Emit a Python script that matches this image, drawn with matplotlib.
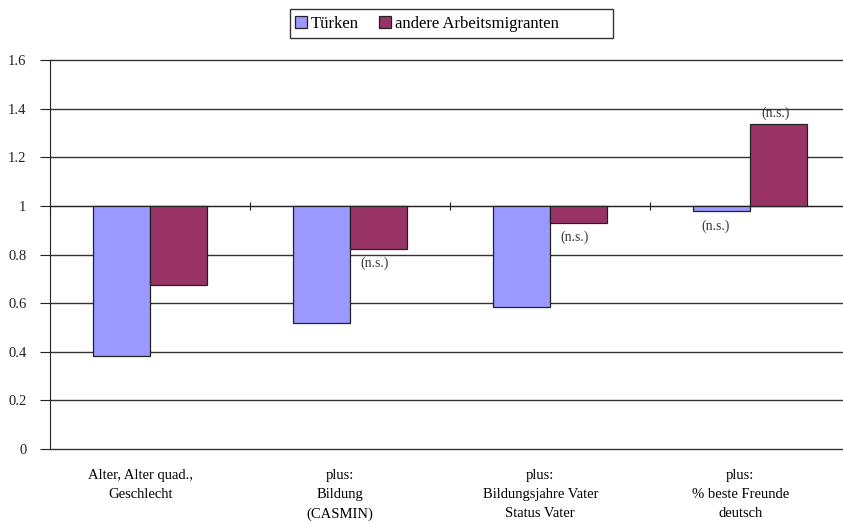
import matplotlib.pyplot as plt
import matplotlib.transforms as mtransforms
from matplotlib.patches import Rectangle
import numpy as np

# Daten (Odds Ratios, Basislinie 1)
kategorien = ["Alter, Alter quad.,\nGeschlecht",
              "plus:\nBildung\n(CASMIN)",
              "plus:\nBildungsjahre Vater\nStatus Vater",
              "plus:\n% beste Freunde\ndeutsch"]
tuerken = [0.383, 0.518, 0.584, 0.979]
andere = [0.675, 0.824, 0.931, 1.336]
ns_tuerken = [False, False, False, True]
ns_andere = [False, True, True, True]

plt.rcParams['font.family'] = ['Liberation Serif', 'DejaVu Serif']
plt.rcParams['font.size'] = 10.5

fig = plt.figure(figsize=(8.43, 5.25), dpi=100)
ax = fig.add_axes([50 / 843, 1 - 449 / 525, 800 / 843, 389 / 525])

x = np.arange(len(kategorien))
w = 0.285
t = np.array(tuerken)
a = np.array(andere)
b1 = ax.bar(x - w / 2, t - 1, w, bottom=1, color='#9999FF', edgecolor='#222222', linewidth=0.9, label='Türken', zorder=3)
b2 = ax.bar(x + w / 2, a - 1, w, bottom=1, color='#993366', edgecolor='#222222', linewidth=0.9, label='andere Arbeitsmigranten', zorder=3)

# (n.s.) Beschriftungen
for i in range(len(x)):
    if ns_tuerken[i]:
        ax.annotate("(n.s.)", (x[i] - w / 2, min(t[i], 1)), xytext=(-4, -6), textcoords='offset points',
                    ha='center', va='top', fontsize=10, color='#333333')
    if ns_andere[i]:
        if a[i] < 1:
            ax.annotate("(n.s.)", (x[i] + w / 2, a[i]), xytext=(-3, -6), textcoords='offset points',
                        ha='center', va='top', fontsize=10, color='#333333')
        else:
            ax.annotate("(n.s.)", (x[i] + w / 2, a[i]), xytext=(-2, 3), textcoords='offset points',
                        ha='center', va='bottom', fontsize=10, color='#333333')

ax.set_ylim(0, 1.6)
ax.set_xlim(-0.5, 3.5)
ax.set_yticks(np.arange(0, 1.61, 0.2))
ax.set_yticklabels(['0', '0.2', '0.4', '0.6', '0.8', '1', '1.2', '1.4', '1.6'], color='#222222')
ax.yaxis.grid(True, color='#333333', linewidth=1.0, zorder=0)
for gl in ax.get_ygridlines():
    gl.set_clip_on(False)
ax.set_axisbelow(True)

# x-Achse kreuzt bei 1
ax.spines['top'].set_visible(False)
ax.spines['right'].set_visible(False)
ax.spines['bottom'].set_position(('data', 1))
ax.spines['bottom'].set_color('#222222')
ax.spines['left'].set_color('#222222')
ax.set_xticks([-0.5, 0.5, 1.5, 2.5, 3.5])
ax.set_xticklabels([])
ax.tick_params(axis='x', direction='inout', length=6, color='#222222')
ax.tick_params(axis='y', direction='out', length=7, color='#222222', pad=10)

trans = mtransforms.blended_transform_factory(ax.transData, ax.transAxes)
off = mtransforms.offset_copy(trans, fig=fig, x=-7, y=0, units='points')
for i, lab in enumerate(kategorien):
    ax.text(x[i], -0.052, lab, transform=off, ha='center', va='top', linespacing=1.6, fontsize=10.5)

# Legende mit eigenem Rahmen
leg = fig.legend(handles=[b1, b2], loc='center left', bbox_to_anchor=(295 / 843, 1 - 23.5 / 525), ncol=2,
                 frameon=False, fontsize=12,
                 handlelength=0.72, handleheight=0.72, handletextpad=0.25, columnspacing=1.2,
                 borderpad=0, borderaxespad=0)
fig.patches.append(Rectangle((290 / 843, 1 - 38 / 525), 323 / 843, 29 / 525, transform=fig.transFigure,
                             fill=False, edgecolor='#333333', linewidth=1.0))

fig.savefig('out.png', dpi=100)
